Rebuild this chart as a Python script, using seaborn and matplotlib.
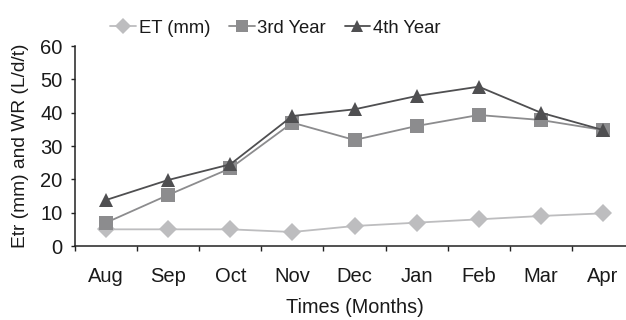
import matplotlib
matplotlib.use("Agg")
import matplotlib.pyplot as plt
import seaborn as sns
import pandas as pd

months = ["Aug", "Sep", "Oct", "Nov", "Dec", "Jan", "Feb", "Mar", "Apr"]
et_mm = [5, 5, 5, 4.2, 6, 7, 8, 9, 9.8]
year3 = [7, 15.3, 23.3, 37, 31.8, 36, 39.3, 37.8, 34.8]
year4 = [13.8, 19.8, 24.5, 39, 41, 45, 47.8, 40, 34.8]
series_names = ["ET (mm)", "3rd Year", "4th Year"]

sns.set_theme(style="ticks")
plt.rcParams["font.family"] = ["Liberation Sans", "DejaVu Sans"]

frames = []
for name, vals in zip(series_names, [et_mm, year3, year4]):
    frames.append(pd.DataFrame({"Month": months, "Value": vals, "Series": name}))
df = pd.concat(frames, ignore_index=True)
df["x"] = df["Month"].map({m: i for i, m in enumerate(months)})

fig = plt.figure(figsize=(6.26, 3.20), dpi=100)
ax = fig.add_axes([75 / 626, 1 - 246 / 320, 559 / 626, 200 / 320])

palette = {"ET (mm)": "#bdbdbf", "3rd Year": "#8c8c8e", "4th Year": "#4f4f51"}
markers = {"ET (mm)": "D", "3rd Year": "s", "4th Year": "^"}
sizes = {"ET (mm)": 9.5, "3rd Year": 9.5, "4th Year": 10.5}

for name in series_names:
    sub = df[df["Series"] == name]
    sns.lineplot(data=sub, x="x", y="Value", ax=ax, color=palette[name],
                 marker=markers[name], markersize=sizes[name],
                 markeredgewidth=0, linewidth=1.3, label=name, legend=False)

ax.set_xlim(-0.5, len(months) - 0.5)
ax.set_ylim(0, 60)
ax.set_yticks(range(0, 61, 10))
ax.set_xticks([i + 0.5 for i in range(-1, len(months))], minor=False)
ax.set_xticklabels([])
ax.set_xticks(range(len(months)), minor=True)
ax.set_xticklabels(months, minor=True)
ax.tick_params(axis="x", which="minor", length=0, pad=15, labelsize=14.5, labelcolor="#1a1a1a")
ax.tick_params(axis="x", which="major", length=3.5, width=1, direction="out", color="#222")
ax.tick_params(axis="y", length=3, width=1, color="#222", labelsize=14.5, pad=6, labelcolor="#1a1a1a")
for s in ["top", "right"]:
    ax.spines[s].set_visible(False)
for s in ["left", "bottom"]:
    ax.spines[s].set_color("#222")
    ax.spines[s].set_linewidth(1.1)

ax.set_xlabel("Times (Months)", fontsize=14.3, labelpad=8.5, color="#1a1a1a")
ax.set_ylabel("Etr (mm) and WR (L/d/t)", fontsize=13.8, labelpad=8, color="#1a1a1a")

handles, labels = ax.get_legend_handles_labels()
fig.legend(handles, labels, loc="upper center", bbox_to_anchor=(0.44, 0.99), ncol=3,
           frameon=False, fontsize=13.3, handlelength=1.4, handletextpad=0.15,
           columnspacing=1.0, markerscale=0.85, labelcolor="#1a1a1a")

fig.savefig("out.png", dpi=100)
